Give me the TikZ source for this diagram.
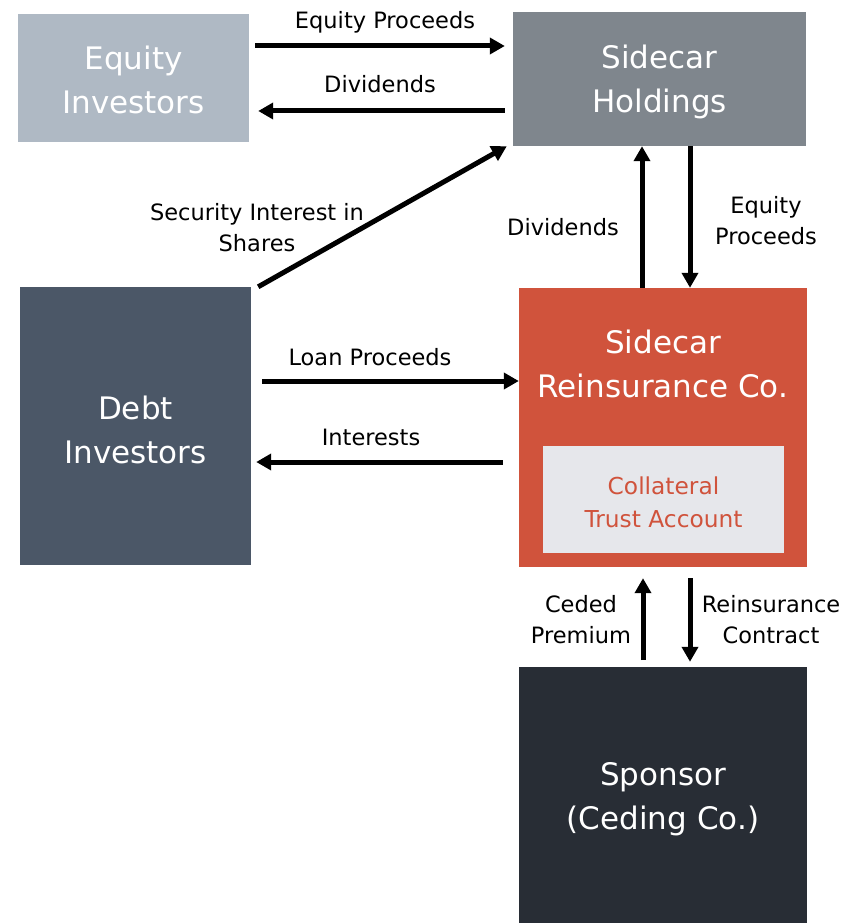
\documentclass[tikz,border=0pt]{standalone}
\usepackage{fontspec}
\setmainfont{DejaVu Sans}
\usetikzlibrary{arrows.meta,calc}
\definecolor{eqc}{HTML}{AFB9C4}
\definecolor{holdc}{HTML}{7F868D}
\definecolor{debtc}{HTML}{4B5767}
\definecolor{reinc}{HTML}{D0533C}
\definecolor{collc}{HTML}{E6E7EB}
\definecolor{sponc}{HTML}{282D35}
\begin{document}
\begin{tikzpicture}[x=1pt,y=-1pt,
  box/.style={rectangle,inner sep=0pt},
  btxt/.style={inner sep=0pt,text=white,align=center,font=\fontsize{31}{44}\selectfont},
  lbl/.style={align=center,font=\fontsize{22.5}{31}\selectfont,inner sep=0pt},
  arr/.style={line width=5pt,-{Triangle[length=15pt,width=16pt]}}]
\useasboundingbox (0,0) rectangle (850,923);
\node[box,fill=eqc,minimum width=231pt,minimum height=128pt] (eq) at (133.5,78) {};
\node[btxt] (eqt) at (133.5,80) {Equity\\Investors};
\node[box,fill=holdc,minimum width=293pt,minimum height=134pt] (hold) at (659.5,79) {};
\node[btxt] (holdt) at (659.5,82) {Sidecar\\Holdings};
\node[box,fill=debtc,minimum width=231pt,minimum height=278pt] (debt) at (135.5,426) {};
\node[btxt] (debtt) at (135.5,430) {Debt\\Investors};
\node[box,fill=reinc,minimum width=288pt,minimum height=279pt] (rein) at (663,427.5) {};
\node[btxt] (reint) at (663,364) {Sidecar\\Reinsurance Co.};
\node[box,fill=collc,minimum width=241pt,minimum height=107pt] (coll) at (663.5,499.5) {};
\node[btxt,text=reinc,font=\fontsize{23.3}{33}\selectfont] (collt) at (663.5,502) {Collateral\\Trust Account};
\node[box,fill=sponc,minimum width=288pt,minimum height=256pt] (spon) at (663,795) {};
\node[btxt] (spont) at (663,799) {Sponsor\\(Ceding Co.)};

\draw[arr] ([xshift=6pt]eq.east|-0,46) -- ([xshift=-8pt]hold.west|-0,46);
\draw[arr] ([xshift=-8pt]hold.west|-0,111) -- ([xshift=9pt]eq.east|-0,111);
\draw[arr] ([xshift=7pt]debt.north east) -- ([xshift=-6pt]hold.south west);
\draw[arr] (rein.north-|642,0) -- (hold.south-|642,0);
\draw[arr] (hold.south-|690,0) -- (rein.north-|690,0);
\draw[arr] ([xshift=11pt]debt.east|-0,381) -- (rein.west|-0,381);
\draw[arr] ([xshift=-16pt]rein.west|-0,462) -- ([xshift=5pt]debt.east|-0,462);
\draw[arr] ([yshift=-93pt]rein.south-|643,0) -- ([yshift=-11pt]rein.south-|643,0);
\draw[arr] ([yshift=-11pt]rein.south-|690,0) -- ([yshift=5pt]spon.north-|690,0);

\node[lbl] (l1) at (385,22) {Equity Proceeds};
\node[lbl] (l2) at (380,84) {Dividends};
\node[lbl] (l3) at (257,228) {Security Interest in\\Shares};
\node[lbl] (l4) at (563,227) {Dividends};
\node[lbl] (l5) at (766,221) {Equity\\Proceeds};
\node[lbl] (l6) at (370,357) {Loan Proceeds};
\node[lbl] (l7) at (371,437) {Interests};
\node[lbl] (l8) at (581,620) {Ceded\\Premium};
\node[lbl] (l9) at (771,620) {Reinsurance\\Contract};
\end{tikzpicture}
\end{document}
